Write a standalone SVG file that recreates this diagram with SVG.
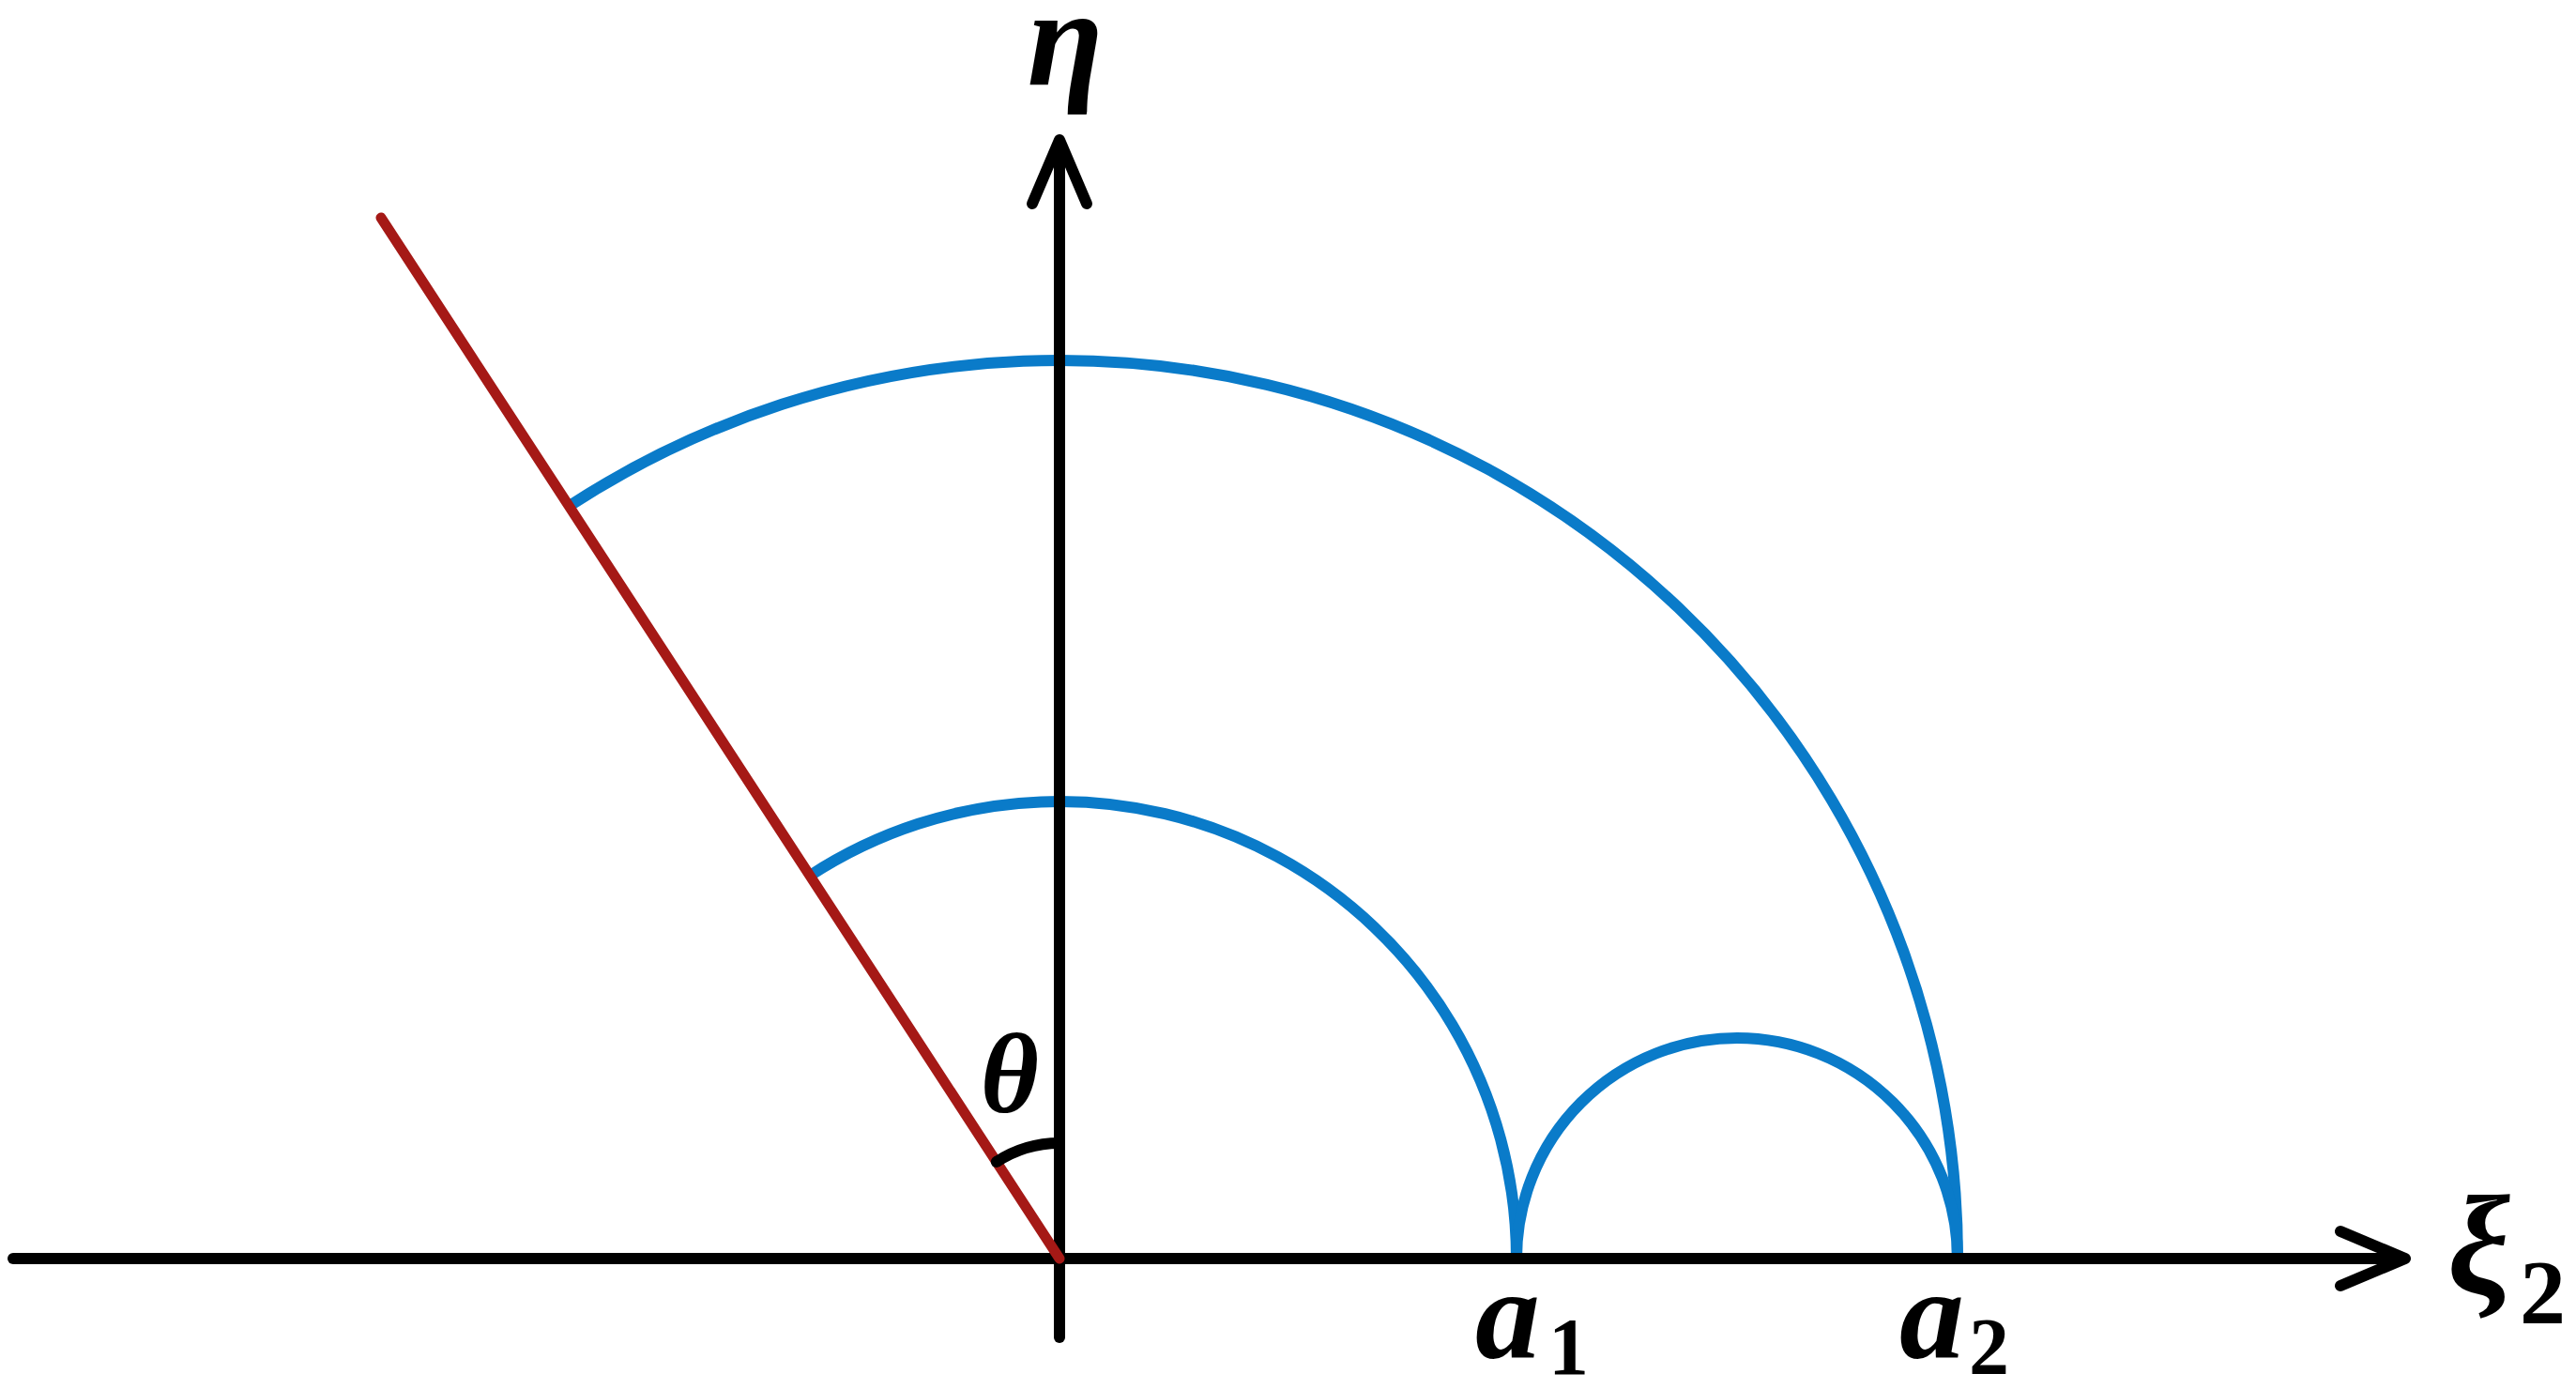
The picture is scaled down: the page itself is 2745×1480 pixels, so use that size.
<svg xmlns="http://www.w3.org/2000/svg" width="2745" height="1480" viewBox="0 0 2745 1480">
<style>
.arc{fill:none;stroke:#0A7BC9;stroke-width:12}
.ax{fill:none;stroke:#000;stroke-width:12;stroke-linecap:round;stroke-linejoin:round}
.ray{fill:none;stroke:#A51916;stroke-width:11;stroke-linecap:round}
.lbl{font-family:"Liberation Serif","DejaVu Serif",serif;font-weight:bold;font-style:italic;fill:#000}
.sub{font-style:normal}
</style>
<rect width="2745" height="1480" fill="#fff"/>
<g id="arcs">
<path class="arc" d="M 606.4 539.3 A 957 957 0 0 1 2086 1341"/>
<path class="arc" d="M 863.1 933 A 487 487 0 0 1 1616 1341"/>
<path class="arc" d="M 1616 1341 A 235 235 0 0 1 2086 1341"/>
</g>
<g id="connectors">
<g id="xi-axis">
<line class="ax" x1="14" y1="1341" x2="2558" y2="1341"/>
<polyline class="ax" points="2494,1312 2563,1341 2494,1370"/>
</g>
<g id="eta-axis">
<line class="ax" x1="1129" y1="1425" x2="1129" y2="155"/>
<polyline class="ax" points="1100,217 1129,149 1158,217"/>
</g>
<line id="ray" class="ray" x1="406" y1="232" x2="1129" y2="1341"/>
<path id="theta-arc" class="ax" d="M 1061.8 1238 A 123 123 0 0 1 1129 1218" style="stroke-linecap:butt"/>
<circle cx="1061.8" cy="1238" r="6" fill="#000"/>
</g>
<g id="label-eta"><text class="lbl" x="1135" y="90" font-size="148" text-anchor="middle">η</text></g>
<g id="label-theta"><text class="lbl" x="1076" y="1185" font-size="120" text-anchor="middle">θ</text></g>
<g id="label-a1"><text class="lbl" x="1572" y="1447" font-size="138">a<tspan class="sub" x="1650" y="1464" font-size="86">1</tspan></text></g>
<g id="label-a2"><text class="lbl" x="2024" y="1447" font-size="138">a<tspan class="sub" x="2098" y="1464" font-size="86">2</tspan></text></g>
<g id="label-xi"><text class="lbl" x="2608" y="1378" font-size="150">ξ<tspan class="sub" x="2685" y="1410" font-size="98">2</tspan></text></g>
</svg>
